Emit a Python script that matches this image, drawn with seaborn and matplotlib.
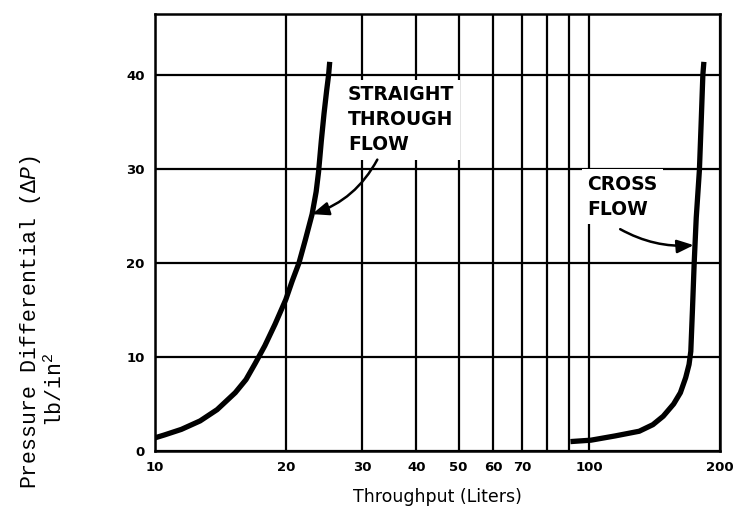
import numpy as np
import pandas as pd
import matplotlib
matplotlib.use("Agg")
import matplotlib.pyplot as plt
import seaborn as sns

# ---- data ----
straight_x = [10.0, 10.5, 11.5, 12.7, 13.9, 15.3, 16.2, 17.0, 17.9, 18.9, 20.0, 20.7,
              21.45, 22.2, 23.0, 23.5, 23.8, 24.15, 24.5, 24.85, 25.1, 25.25]
straight_y = [1.4, 1.7, 2.3, 3.2, 4.4, 6.2, 7.6, 9.3, 11.2, 13.5, 16.1, 18.1,
              20.0, 22.5, 25.2, 27.6, 29.7, 33.0, 35.9, 38.4, 40.0, 41.4]
cross_x = [90.5, 100.9, 114.6, 130.3, 140.1, 148.0, 156.4, 162.1, 166.7, 169.7, 171.3,
           172.8, 174.4, 176.3, 179.3, 180.9, 182.6, 183.6]
cross_y = [1.0, 1.15, 1.6, 2.1, 2.8, 3.7, 5.0, 6.2, 7.8, 9.2, 10.6,
           15.0, 20.0, 24.8, 29.9, 34.7, 40.0, 41.4]

x_ticks = [10, 20, 30, 40, 50, 60, 70, 80, 90, 100, 200]
x_tick_labels = ["10", "20", "30", "40", "50", "60", "70", "", "", "100", "200"]
y_ticks = [0, 10, 20, 30, 40]
y_tick_labels = ["0", "10", "20", "30", "40"]

df = pd.concat([
    pd.DataFrame({"x": straight_x, "y": straight_y, "series": "Straight through flow"}),
    pd.DataFrame({"x": cross_x, "y": cross_y, "series": "Cross flow"}),
])

sns.set_style("white")
plt.rcParams["font.family"] = ["DejaVu Sans"]
plt.rcParams["text.color"] = "black"
plt.rcParams["mathtext.fontset"] = "custom"
plt.rcParams["mathtext.rm"] = "Liberation Mono"
plt.rcParams["mathtext.it"] = "Liberation Mono:italic"

fig = plt.figure(figsize=(7.4, 5.16), dpi=100)
ax = fig.add_axes([0.2095, 0.126, 0.7635, 0.847])

ax.set_xscale("log")
ax.set_xlim(10, 200)
ax.set_ylim(0, 46.5)

sns.lineplot(data=df, x="x", y="y", units="series", estimator=None, sort=False,
             color="black", lw=3.8, ax=ax, zorder=5, solid_capstyle="butt",
             solid_joinstyle="round")

ax.xaxis.set_minor_locator(matplotlib.ticker.NullLocator())
ax.set_xticks(x_ticks)
ax.set_xticklabels(x_tick_labels)
ax.set_yticks(y_ticks)
ax.set_yticklabels(y_tick_labels)
ax.grid(True, which="major", color="black", lw=1.6)
ax.set_axisbelow(True)
for s in ax.spines.values():
    s.set_color("black")
    s.set_linewidth(1.8)
ax.tick_params(axis="both", which="major", direction="out", length=4, width=1.6,
               colors="black", labelsize=9.5)
for lab in ax.get_xticklabels() + ax.get_yticklabels():
    lab.set_fontweight("bold")
    lab.set_color("black")

ax.set_xlabel("Throughput (Liters)", fontsize=12.5, labelpad=10, color="black")
ax.set_ylabel("")

# annotations
bb = dict(boxstyle="square,pad=0.3", fc="white", ec="none")
ax.text(27.8, 38.9, "STRAIGHT\nTHROUGH\nFLOW", ha="left", va="top", fontsize=13.5,
        fontweight="bold", linespacing=1.4, bbox=bb, zorder=3, color="black")
ax.text(99, 29.4, "CROSS\nFLOW", ha="left", va="top", fontsize=13.5,
        fontweight="bold", linespacing=1.4, bbox=bb, zorder=3, color="black")

arrow_style = "-|>,head_length=1.0,head_width=0.4"
ax.annotate("", xy=(23.0, 25.2), xytext=(32.5, 31.0),
            arrowprops=dict(arrowstyle=arrow_style, color="black",
                            lw=1.8, connectionstyle="arc3,rad=-0.2", shrinkA=0, shrinkB=0),
            zorder=4)
ax.annotate("", xy=(174.0, 21.9), xytext=(117.8, 23.6),
            arrowprops=dict(arrowstyle=arrow_style, color="black",
                            lw=1.8, connectionstyle="arc3,rad=0.15", shrinkA=0, shrinkB=0),
            zorder=4)

# y label (two lines, typewriter style)
mono = ["Liberation Mono", "DejaVu Sans Mono"]
fig.text(31 / 740, 1 - 322 / 516, "Pressure Differential (\u0394$\\mathit{P}$)", rotation=90,
         ha="center", va="center", fontsize=15.5, family=mono, color="black")
fig.text(56 / 740, 1 - 390 / 516, "lb/in$^{2}$", rotation=90,
         ha="center", va="center", fontsize=15.5, family=mono, color="black")

fig.savefig("out.png", dpi=100, facecolor="white")
